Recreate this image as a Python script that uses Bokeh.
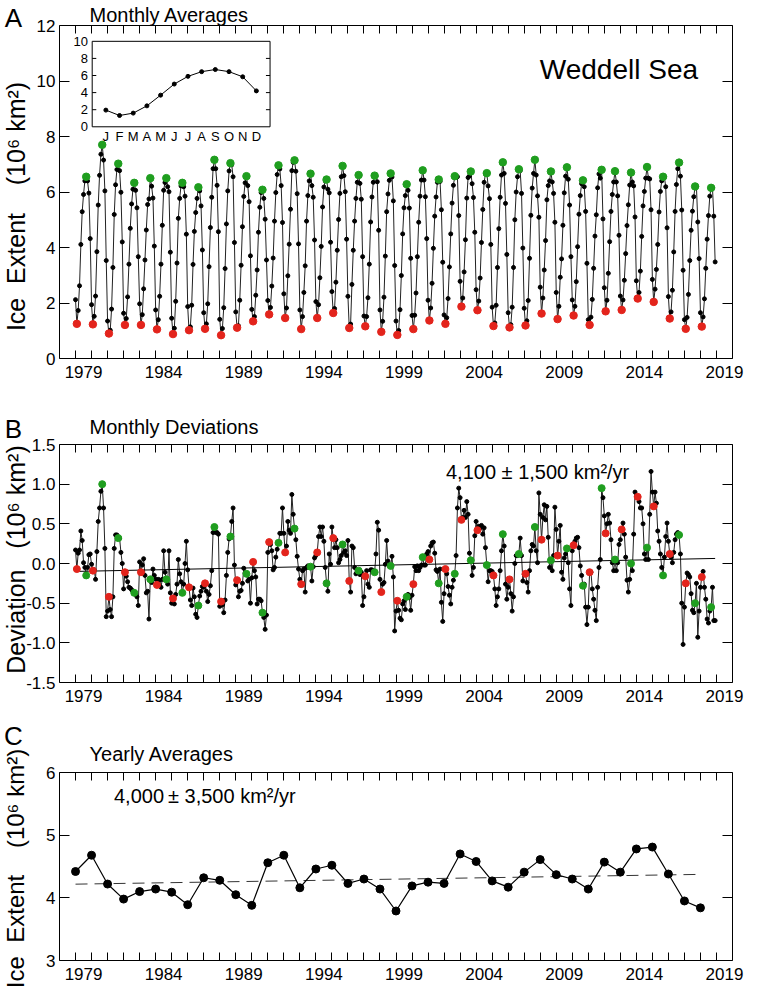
import numpy as np
from bokeh.plotting import figure
from bokeh.models import Range1d, FixedTicker, LinearAxis, Label, PrintfTickFormatter, ColumnDataSource
from bokeh.layouts import column
from bokeh.embed import file_html
from bokeh.resources import INLINE
from bokeh.core.properties import value

FONT = "Liberation Sans"
GREEN = "#1f9e1f"
RED = "#e3241c"

# ---------------- data ----------------
first_year = 1979
label_years = [1979, 1984, 1989, 1994, 1999, 2004, 2009, 2014, 2019]
month_letters = ["J", "F", "M", "A", "M", "J", "J", "A", "S", "O", "N", "D"]
climatology = [1.95, 1.32, 1.60, 2.45, 3.70, 5.00, 5.90, 6.45, 6.70, 6.45, 5.85, 4.20]
inset_yticks = [0, 2, 4, 6, 8, 10]

# monthly deviations (10^6 km^2), Jan..Dec, 1979-2018
monthly_deviation = [
    0.17, -0.07, 0.13, 0.17, 0.41, 0.29, 0.01, -0.05, -0.15, -0.05, 0.11, 0.12,     # 1979
    -0.01, -0.09, -0.08, -0.20, 0.15, 0.53, 0.70, 0.91, 1.00, 0.70, 0.19, -0.67,    # 1980
    -0.60, -0.42, -0.58, -0.67, -0.42, 0.19, 0.36, 0.36, 0.32, 0.32, 0.14, 0.00,    # 1981
    -0.32, -0.11, -0.16, -0.23, -0.30, -0.31, -0.33, -0.35, -0.37, -0.39, -0.42, -0.53,  # 1982
    0.02, -0.11, -0.02, 0.06, -0.15, -0.37, -0.35, -0.70, -0.20, -0.24, -0.07, -0.15,   # 1983
    -0.20, -0.27, -0.20, -0.21, -0.30, -0.20, 0.16, -0.11, -0.20, -0.26, 0.16, -0.37,   # 1984
    -0.50, -0.44, -0.51, -0.39, -0.26, 0.05, -0.13, -0.23, -0.37, -0.26, 0.00, 0.28,    # 1985
    -0.08, -0.30, -0.46, -0.53, -0.31, -0.42, -0.64, -0.68, -0.53, -0.41, -0.35, -0.29, # 1986
    -0.30, -0.25, -0.35, -0.48, -0.39, -0.28, -0.09, 0.39, 0.46, 0.39, 0.39, 0.37,     # 1987
    -0.54, -0.48, -0.52, -0.62, -0.46, -0.15, 0.14, 0.31, 0.34, 0.53, 0.70, -0.02,     # 1988
    -0.27, -0.21, -0.42, -0.35, -0.34, -0.25, -0.06, -0.12, -0.13, -0.22, -0.20, -0.50, # 1989
    -0.18, 0.02, -0.09, -0.17, -0.51, -0.45, -0.45, -0.47, -0.62, -0.68, -0.83, -0.65,  # 1990
    0.14, 0.27, 0.24, 0.16, -0.08, -0.05, 0.08, 0.18, 0.26, 0.38, 0.38, 0.70,          # 1991
    0.38, 0.14, 0.22, 0.53, 0.42, 0.38, 0.87, 0.62, 0.44, 0.30, 0.09, -0.07,           # 1992
    -0.20, -0.26, -0.09, -0.07, -0.36, -0.05, -0.03, -0.05, -0.04, -0.22, -0.04, 0.07,  # 1993
    0.10, 0.14, 0.34, 0.46, 0.34, 0.46, 0.28, -0.05, -0.25, -0.35, 0.12, -0.01,        # 1994
    0.46, 0.32, 0.20, 0.30, 0.20, 0.01, 0.05, 0.10, 0.24, 0.14, 0.16, 0.10,            # 1995
    0.29, -0.22, -0.36, 0.22, 0.20, -0.05, -0.13, -0.10, -0.09, -0.14, -0.11, -0.53,   # 1996
    -0.42, -0.16, -0.09, -0.26, -0.30, -0.08, -0.08, -0.10, -0.11, 0.12, 0.52, 0.42,   # 1997
    -0.20, -0.36, -0.26, -0.24, -0.01, 0.29, 0.03, -0.03, -0.03, 0.09, -0.17, -0.85,   # 1998
    -0.60, -0.47, -0.59, -0.69, -0.71, -0.51, -0.47, -0.58, -0.42, -0.39, -0.43, -0.59, # 1999
    -0.40, -0.26, -0.04, -0.09, -0.03, -0.09, -0.05, -0.02, 0.08, -0.02, -0.02, 0.12,  # 2000
    0.15, 0.05, 0.22, 0.26, 0.27, 0.13, -0.08, -0.10, -0.25, -0.07, -0.49, -0.73,      # 2001
    -0.38, -0.07, -0.13, -0.29, -0.40, -0.51, -0.30, -0.21, -0.13, 0.10, 0.70, 0.95,   # 2002
    0.83, 0.55, 0.58, 0.67, 0.58, 0.78, 0.62, 0.13, 0.04, -0.15, -0.05, 0.35,          # 2003
    0.53, 0.42, 0.47, 0.45, 0.48, 0.37, 0.45, 0.20, -0.02, -0.23, -0.09, -0.09,        # 2004
    -0.10, -0.15, -0.32, -0.53, -0.42, -0.32, -0.09, 0.16, 0.37, 0.22, -0.26, -0.45,   # 2005
    -0.30, -0.20, -0.38, -0.60, -0.42, 0.00, 0.10, 0.10, 0.12, 0.32, 0.10, -0.22,      # 2006
    -0.14, -0.13, -0.24, -0.36, -0.09, 0.16, 0.24, 0.22, 0.46, 0.16, 0.01, 0.89,       # 2007
    0.62, 0.30, 0.58, 0.74, 0.55, 0.72, 0.33, -0.05, 0.04, -0.09, 0.10, 0.71,          # 2008
    0.43, 0.10, 0.28, 0.48, -0.11, -0.20, 0.07, 0.12, 0.19, 0.01, -0.32, -0.53,        # 2009
    0.16, 0.23, 0.28, 0.32, 0.33, 0.20, -0.03, -0.15, -0.28, -0.26, -0.55, -0.77,      # 2010
    -0.55, -0.11, -0.11, -0.32, -0.45, -0.59, -0.72, -0.30, -0.05, 0.05, 0.95, 0.83,   # 2011
    0.60, 0.38, 0.50, 0.62, 0.51, 0.30, 0.01, -0.09, 0.05, -0.09, 0.01, 0.24,          # 2012
    0.30, 0.43, 0.51, 0.37, 0.08, -0.21, -0.36, -0.20, 0.00, -0.09, 0.37, 0.90,        # 2013
    0.85, 0.84, 0.78, 0.70, 0.70, 0.50, 0.12, 0.05, 0.20, 0.05, 0.62, 1.16,            # 2014
    0.90, 0.72, 0.90, 0.76, 0.41, 0.28, 0.12, -0.05, -0.15, 0.08, 0.34, 0.51,          # 2015
    0.28, 0.12, 0.08, 0.01, 0.14, 0.30, 0.37, 0.39, 0.36, 0.12, -0.50, -1.02,          # 2016
    -0.55, -0.25, -0.12, -0.14, -0.17, -0.38, -0.59, -0.62, -0.50, -0.25, -0.93, -0.60, # 2017
    -0.30, -0.17, -0.10, -0.30, -0.45, -0.70, -0.75, -0.60, -0.55, -0.30, -0.72, -0.72, # 2018
]

years = list(range(1979, 2019))
yearly_average = [
    4.42, 4.68, 4.22, 3.98, 4.10, 4.14, 4.09, 3.89, 4.32, 4.28,
    4.05, 3.88, 4.56, 4.68, 4.16, 4.46, 4.52, 4.23, 4.30, 4.14,
    3.79, 4.19, 4.25, 4.23, 4.70, 4.58, 4.27, 4.17, 4.41, 4.61,
    4.37, 4.30, 4.14, 4.57, 4.41, 4.78, 4.81, 4.38, 3.95, 3.84,
]
trend_monthly_km2_per_yr = 4100
trend_yearly_km2_per_yr = 4000

# ---------------- derived ----------------
dev = np.array(monthly_deviation)
n = len(dev)
t = first_year + np.arange(n) / 12.0
extent = np.array(climatology)[np.arange(n) % 12] + dev
imax = np.array([k * 12 + int(np.argmax(extent[k * 12:(k + 1) * 12])) for k in range(n // 12)])
imin = np.array([k * 12 + int(np.argmin(extent[k * 12:(k + 1) * 12])) for k in range(n // 12)])

slopeB = trend_monthly_km2_per_yr / 1e6
trendB_t = np.array([t[0], t[-1]])
trendB_y = dev.mean() + slopeB * (trendB_t - t.mean())

ya = np.array(yearly_average)
yr = np.array(years, dtype=float)
slopeC = trend_yearly_km2_per_yr / 1e6
trendC_t = np.array([yr[0], yr[-1]])
trendC_y = ya.mean() + slopeC * (trendC_t - yr.mean())

# ---------------- layout (page pixels) ----------------
W = 746                    # canvas width (page x 8..754)
BOX_L, BOX_R = 67, 740     # panel box, page x
X0, X1 = 1978, 2020
KX = (X1 - X0) / (BOX_R - BOX_L)
XS = X0 - (BOX_L - 8) * KX
XE = X1 + (8 + W - BOX_R) * KX


def xd(px):
    return X0 + (px - BOX_L) * KX


def make_panel(page_top, height, box_top, box_bot, v0, v1, yticks, fmt):
    ky = (v1 - v0) / (box_bot - box_top)
    ys = v0 - (page_top + height - box_bot) * ky
    ye = v1 + (box_top - page_top) * ky
    p = figure(width=W, height=height, x_range=Range1d(XS, XE), y_range=Range1d(ys, ye),
               output_backend="svg", toolbar_location=None,
               x_axis_location=None, y_axis_location=None,
               min_border=0, min_border_left=0, min_border_right=0,
               min_border_top=0, min_border_bottom=0,
               background_fill_color="white", border_fill_color="white",
               outline_line_color=None)
    p.grid.visible = False

    def yd(py):
        return v0 + (box_bot - py) * ky

    def xt():
        return FixedTicker(ticks=[y + 0.5 for y in label_years],
                           minor_ticks=list(range(1979, 2020)))

    bx = LinearAxis(fixed_location=v0, bounds=(X0, X1), ticker=xt(),
                    major_label_overrides={y + 0.5: str(y) for y in label_years})
    tx = LinearAxis(fixed_location=v1, bounds=(X0, X1), ticker=xt())
    ly = LinearAxis(fixed_location=X0, bounds=(v0, v1), ticker=FixedTicker(ticks=yticks))
    if fmt:
        ly.formatter = PrintfTickFormatter(format=fmt)
    ry = LinearAxis(fixed_location=X1, bounds=(v0, v1), ticker=FixedTicker(ticks=yticks))
    for ax in (bx, tx):
        ax.major_tick_in = 0
        ax.major_tick_out = 0
        ax.major_tick_line_color = None
        ax.minor_tick_in = 8
        ax.minor_tick_out = 0
        ax.minor_tick_line_color = "black"
    for ax in (ly, ry):
        ax.major_tick_in = 10
        ax.major_tick_out = 0
        ax.minor_tick_line_color = None
        ax.major_tick_line_color = "black"
    for ax in (bx, tx, ly, ry):
        ax.axis_line_color = "black"
        ax.axis_line_width = 1
        ax.major_label_text_font = FONT
        ax.major_label_text_font_size = "17px"
        ax.major_label_text_color = "black"
    bx.major_label_standoff = 7
    ly.major_label_standoff = 4
    for ax in (tx, ry):
        ax.major_label_text_color = None
    p.add_layout(bx, "below")
    p.add_layout(tx, "above")
    p.add_layout(ly, "left")
    p.add_layout(ry, "right")
    return p, yd


def add_text(p, x, y, text, size, align="left", angle=0.0):
    p.add_layout(Label(x=x, y=y, text=text, text_font=FONT, text_font_size=size,
                       text_align=align, text_baseline="middle", text_color="black",
                       angle=angle))


NB = "\u00a0"
UNIT = "(10\u2076" + NB + "km\u00b2)"
YLABEL_EXT = "Ice" + NB * 2 + "Extent" + NB * 4 + UNIT
YLABEL_DEV = "Deviation" + NB * 3 + UNIT

# ---------------- Panel A ----------------
pA, ydA = make_panel(8, 392, 33, 366, 0, 12, [0, 2, 4, 6, 8, 10, 12], None)
srcA = ColumnDataSource(dict(t=t, y=extent))
pA.line("t", "y", source=srcA, line_color="#222222", line_width=1)
pA.scatter("t", "y", source=srcA, size=4, color="black")
pA.scatter(t[imax], extent[imax], size=7.5, color=GREEN)
pA.scatter(t[imin], extent[imin], size=7.5, color=RED)

ins = pA.subplot(x_source=Range1d(-1, 12), y_source=Range1d(0, 10),
                 x_target=Range1d(1980.04, 1991.14), y_target=Range1d(8.35, 11.43))
ins.quad(left=[-1], right=[12], bottom=[0], top=[10], fill_color="white",
         line_color="black", line_width=1)
ins.segment(x0=[-1] * 4, y0=inset_yticks[1:5], x1=[-0.7] * 4, y1=inset_yticks[1:5],
            line_color="black", line_width=1)
ins.segment(x0=[12] * 4, y0=inset_yticks[1:5], x1=[11.7] * 4, y1=inset_yticks[1:5],
            line_color="black", line_width=1)
ins.line(x=list(range(12)), y=climatology, line_color="black", line_width=1)
ins.scatter(x=list(range(12)), y=climatology, size=4, color="black")
ins.text(x=[-1.3] * len(inset_yticks), y=inset_yticks, text=[str(v) for v in inset_yticks],
         text_align="right", text_baseline="middle", text_font=value(FONT),
         text_font_size="13px", text_color="black")
ins.text(x=list(range(12)), y=[-0.25] * 12, text=month_letters,
         text_align="center", text_baseline="top", text_font=value(FONT),
         text_font_size="13px", text_color="black")

add_text(pA, xd(21), ydA(25), "A", "26px", align="center")
add_text(pA, xd(97), ydA(22), "Monthly Averages", "20px")
add_text(pA, 2017.85, 10.4, "Weddell Sea", "28px", align="right")
add_text(pA, xd(23), ydA(214), YLABEL_EXT, "25px", align="center", angle=np.pi / 2)

# ---------------- Panel B ----------------
pB, ydB = make_panel(400, 324, 452, 690, -1.5, 1.5, [-1.5, -1.0, -0.5, 0.0, 0.5, 1.0, 1.5], "%.1f")
srcB = ColumnDataSource(dict(t=t, y=dev))
pB.line("t", "y", source=srcB, line_color="#222222", line_width=1)
pB.scatter("t", "y", source=srcB, size=4, color="black")
pB.line(trendB_t, trendB_y, line_color="black", line_width=1)
pB.scatter(t[imax], dev[imax], size=7, color=GREEN)
pB.scatter(t[imin], dev[imin], size=7, color=RED)
add_text(pB, xd(21), ydB(436), "B", "26px", align="center")
add_text(pB, xd(97), ydB(434), "Monthly Deviations", "20px")
add_text(pB, 2002.12, 1.15, "4,100 \u00b1 1,500 km\u00b2/yr", "20px")
add_text(pB, xd(23), ydB(567), YLABEL_DEV, "25px", align="center", angle=np.pi / 2)

# ---------------- Panel C ----------------
pC, ydC = make_panel(724, 273, 780, 968, 3, 6, [3, 4, 5, 6], None)
pC.line(trendC_t, trendC_y, line_color="#333333", line_width=1, line_dash="12 7")
pC.line(yr, ya, line_color="black", line_width=1.2)
pC.scatter(yr, ya, size=8, color="black")
add_text(pC, xd(21), ydC(743), "C", "26px", align="center")
add_text(pC, xd(97), ydC(761), "Yearly Averages", "20px")
add_text(pC, 1981.4, 5.62, "4,000\u2009\u00b1 3,500 km\u00b2/yr", "20px")
add_text(pC, xd(23), ydC(876), YLABEL_EXT, "24px", align="center", angle=np.pi / 2)

layout = column(pA, pB, pC, spacing=0)
open("out.html", "w").write(file_html(layout, INLINE))
